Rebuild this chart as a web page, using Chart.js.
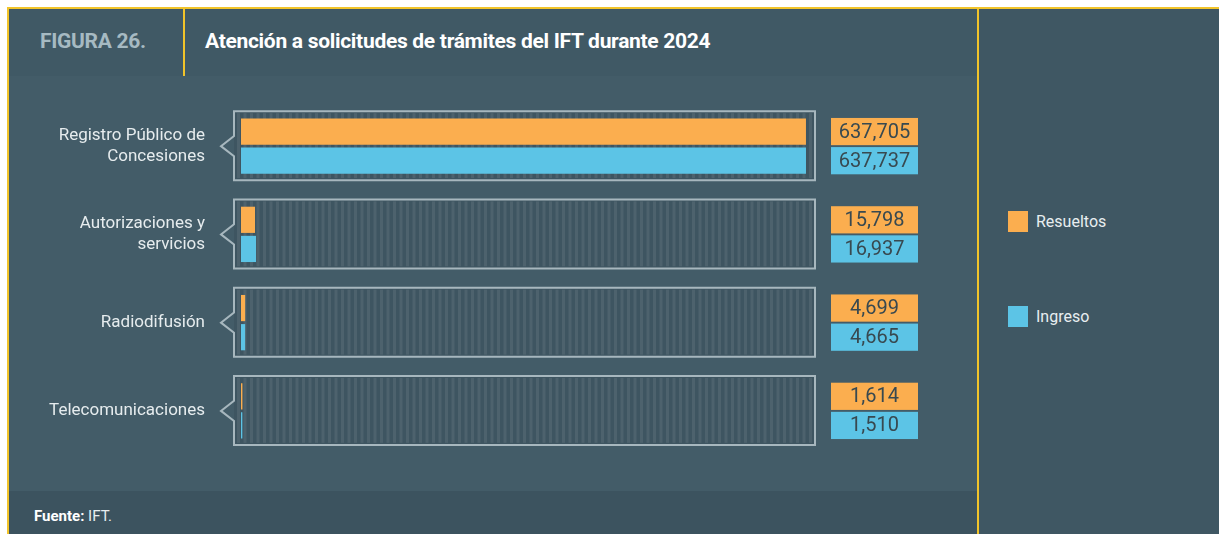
<!DOCTYPE html>
<html>
<head>
<meta charset="utf-8">
<script src="https://cdn.jsdelivr.net/npm/chart.js@4.4.1/dist/chart.umd.min.js"></script>
<style>
  body { margin: 0; width: 1219px; height: 534px; background: #fff; overflow: hidden; position: relative; font-family: Roboto, sans-serif; }
  #bg { position: absolute; left: 7px; top: 7px; width: 1212px; height: 527px; background: #435c68; border-top: 2px solid #f2c42a; border-left: 2px solid #f2c42a; box-sizing: border-box; }
  #head { position: absolute; left: 9px; top: 9px; width: 968px; height: 67px; background: #405965; }
  #sep { position: absolute; left: 183px; top: 9px; width: 2px; height: 67px; background: #f2c42a; }
  #fig { position: absolute; left: 40px; top: 29px; font-size: 21px; font-weight: 700; color: #a6bac2; letter-spacing: -0.3px; }
  #title { position: absolute; left: 205px; top: 29px; font-size: 21px; font-weight: 700; color: #fff; letter-spacing: -0.3px; }
  #side { position: absolute; left: 977px; top: 9px; width: 242px; height: 525px; background: #3f5763; border-left: 2px solid #f2c42a; box-sizing: border-box; }
  #foot { position: absolute; left: 9px; top: 491px; width: 968px; height: 43px; background: #3c535f; }
  #src { position: absolute; left: 34px; top: 507px; font-size: 15px; color: #e8eef0; }
  #src b { font-weight: 700; color: #fff; }
  #wrap { position: absolute; left: 0; top: 0; }
  #legend { position: absolute; left: 1008px; top: 0; }
  .item { position: absolute; left: 0; display: flex; align-items: center; white-space: nowrap; font-size: 16px; color: #e8eef0; }
  .sw { width: 20px; height: 21px; margin-right: 8px; }
</style>
</head>
<body>
<div id="bg"></div>
<div id="head"></div>
<div id="sep"></div>
<div id="side"></div>
<div id="foot"></div>
<div id="fig">FIGURA 26.</div>
<div id="title">Atención a solicitudes de trámites del IFT durante 2024</div>
<div id="src"><b>Fuente:</b> IFT.</div>
<div id="wrap"><canvas id="c" width="977" height="534"></canvas></div>
<div id="legend"></div>
<script>
// datos
const categories = [
  ['Registro Público de', 'Concesiones'],
  ['Autorizaciones y', 'servicios'],
  ['Radiodifusión'],
  ['Telecomunicaciones']
];
const resueltos = [637705, 15798, 4699, 1614];
const ingreso = [637737, 16937, 4665, 1510];
const seriesNames = ['Resueltos', 'Ingreso'];
const seriesColors = ['#fbae4f', '#5cc4e6'];

// marcos con rayas, puntero y etiquetas de valor
const framePlugin = {
  id: 'frames',
  beforeDatasetsDraw(chart) {
    const { ctx, chartArea: a, scales: { y } } = chart;
    chart.data.labels.forEach((lab, i) => {
      const c = y.getPixelForValue(i);
      const top = c - 35, bot = c + 34, l = a.left - 7, r = a.right + 7;
      ctx.save();
      ctx.fillStyle = '#3e5561';
      ctx.fillRect(l, top, r - l, bot - top);
      ctx.fillStyle = 'rgba(255,255,255,0.08)';
      for (let x = l + 3; x < r - 3; x += 6.5) ctx.fillRect(x, top + 2, 3, bot - top - 4);
      ctx.strokeStyle = '#a7b7be';
      ctx.lineWidth = 2;
      ctx.beginPath();
      ctx.moveTo(l, c - 10);
      ctx.lineTo(l, top);
      ctx.lineTo(r, top);
      ctx.lineTo(r, bot);
      ctx.lineTo(l, bot);
      ctx.lineTo(l, c + 10);
      ctx.lineTo(l - 13, c);
      ctx.closePath();
      ctx.stroke();

      // etiqueta de categoría
      ctx.fillStyle = '#e6ecee';
      ctx.font = '17px Roboto';
      ctx.textAlign = 'right';
      ctx.textBaseline = 'middle';
      const lh = 21;
      lab.forEach((t, k) => {
        ctx.fillText(t, a.left - 36, c + (k - (lab.length - 1) / 2) * lh);
      });
      ctx.restore();
    });
  },
  afterDatasetsDraw(chart) {
    const { ctx, chartArea: a } = chart;
    chart.data.datasets.forEach((ds, di) => {
      const meta = chart.getDatasetMeta(di);
      meta.data.forEach((bar, i) => {
        const h = bar.height + 1;
        const x0 = a.right + 23, w = 87;
        ctx.save();
        ctx.fillStyle = ds.backgroundColor;
        ctx.fillRect(x0, bar.y - h / 2, w, h);
        ctx.fillStyle = '#384950';
        ctx.font = '20px Roboto';
        ctx.textAlign = 'center';
        ctx.textBaseline = 'middle';
        ctx.fillText(ds.data[i].toLocaleString('en-US'), x0 + w / 2, bar.y + 1);
        ctx.restore();
      });
    });
  }
};

new Chart(document.getElementById('c'), {
  type: 'bar',
  data: {
    labels: categories,
    datasets: [
      { label: seriesNames[0], data: resueltos, backgroundColor: seriesColors[0] },
      { label: seriesNames[1], data: ingreso, backgroundColor: seriesColors[1] }
    ]
  },
  options: {
    indexAxis: 'y',
    responsive: false,
    animation: false,
    devicePixelRatio: 1,
    categoryPercentage: 0.66,
    barPercentage: 0.9,
    layout: { padding: { left: 241, top: 102, right: 169, bottom: 79 } },
    plugins: { legend: { display: false }, tooltip: { enabled: false } },
    scales: {
      x: { display: false, min: 0, max: 640000 },
      y: { display: false }
    }
  },
  plugins: [framePlugin]
});

// leyenda en el panel derecho
const legendTops = [211, 306];
seriesNames.forEach((n, i) => {
  const d = document.createElement('div');
  d.className = 'item';
  d.style.top = legendTops[i] + 'px';
  d.innerHTML = `<span class="sw" style="background:${seriesColors[i]}"></span>${n}`;
  document.getElementById('legend').appendChild(d);
});
</script>
</body>
</html>
